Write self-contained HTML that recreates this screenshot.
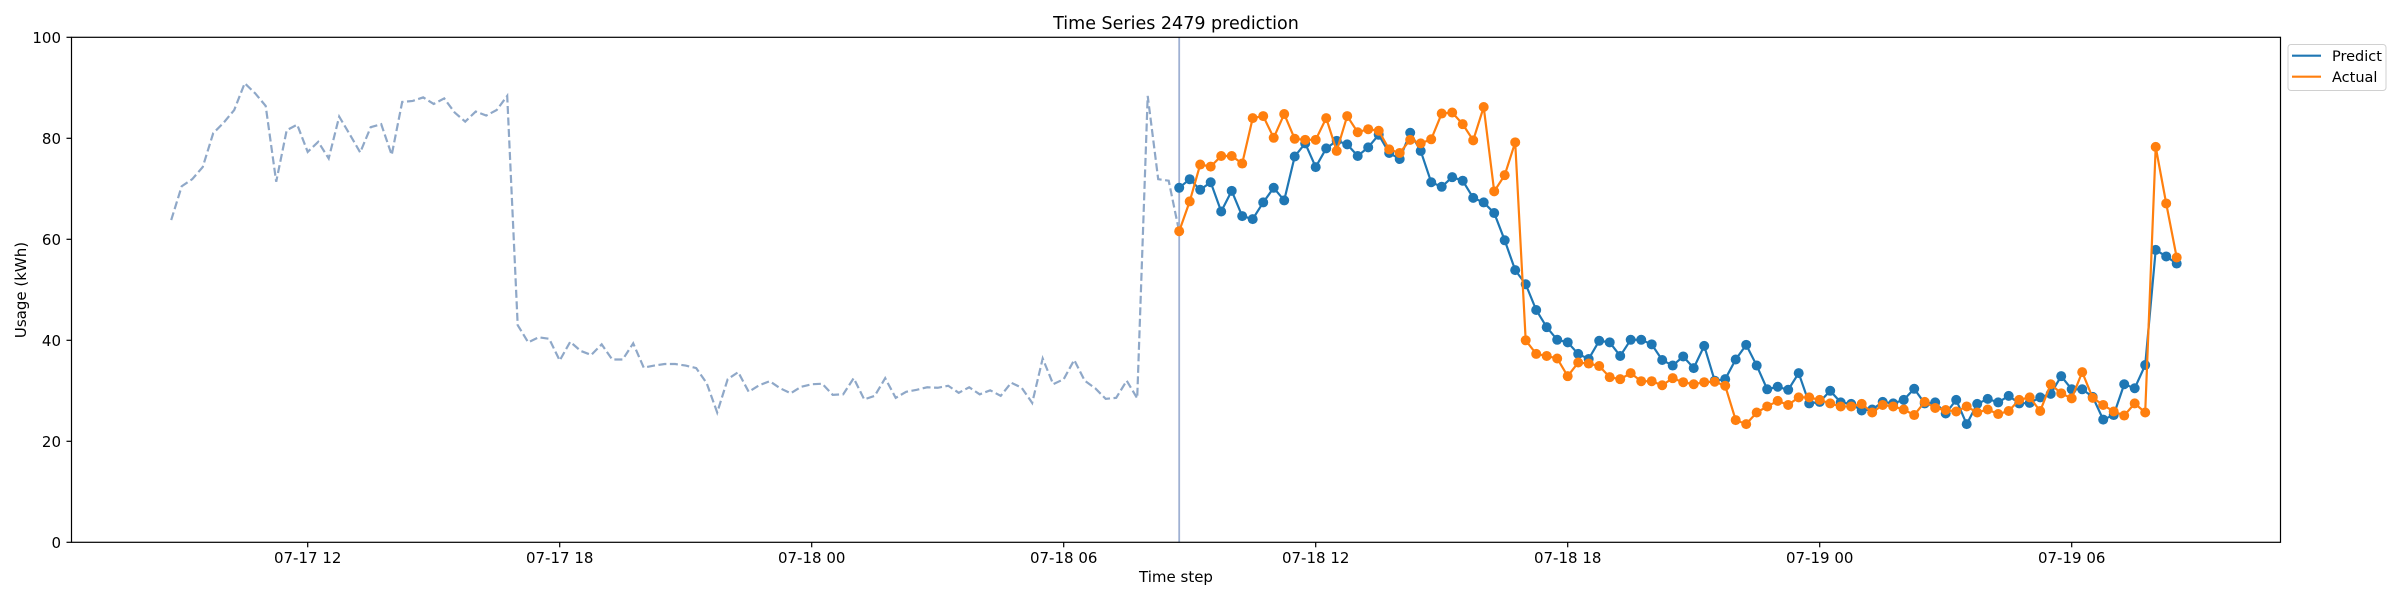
<!DOCTYPE html>
<html><head><meta charset="utf-8"><title>Time Series 2479 prediction</title>
<style>
html,body{margin:0;padding:0;background:#fff;}
svg{display:block;font-family:"DejaVu Sans","Liberation Sans",sans-serif;}
</style></head>
<body>
<svg id="chart" width="2400" height="600" viewBox="0 0 2400 600" xmlns="http://www.w3.org/2000/svg">
  <rect x="0" y="0" width="2400" height="600" fill="#fff"/>
  <text x="1176" y="29" font-size="17.5" text-anchor="middle" fill="#000">Time Series 2479 prediction</text>
  <text x="1176" y="582" font-size="15" text-anchor="middle" fill="#000">Time step</text>
  <text x="0" y="0" font-size="15" text-anchor="middle" fill="#000" transform="translate(26,290) rotate(-90)">Usage (kWh)</text>
  <g id="grid-ticks"></g>
  <g id="series"></g>
  <rect x="71.5" y="37.3" width="2209" height="505" fill="none" stroke="#000" stroke-width="1.2"/>
  <g>
    <rect x="2288" y="44.5" width="98" height="46" rx="3" fill="#fff" stroke="#d0d0d0" stroke-width="1"/>
    <g>
      <line x1="2292" y1="55.7" x2="2321" y2="55.7" stroke="#1f77b4" stroke-width="2.2"/>
      <text x="2332" y="61" font-size="14.5" fill="#000">Predict</text>
    </g>
    <g>
      <line x1="2292" y1="76.7" x2="2321" y2="76.7" stroke="#ff7f0e" stroke-width="2.2"/>
      <text x="2332" y="82" font-size="14.5" fill="#000">Actual</text>
    </g>
  </g>
</svg>
<script>
const historyValues = [63.8,70.5,71.9,74.3,81.0,83.1,85.6,90.9,88.9,86.4,71.4,81.6,82.7,77.3,79.3,76.0,84.3,80.8,77.2,82.2,82.8,76.7,87.2,87.4,88.1,86.8,87.9,85.1,83.3,85.3,84.5,85.6,88.4,43.0,39.6,40.6,40.3,36.0,39.7,37.9,37.1,39.2,36.2,36.2,39.4,34.6,35.0,35.3,35.3,35.0,34.5,31.5,25.7,32.3,33.7,29.8,31.1,31.9,30.5,29.5,30.8,31.3,31.4,29.2,29.3,32.5,28.3,29.0,32.5,28.6,29.8,30.2,30.7,30.6,31.0,29.6,30.7,29.3,30.1,29.0,31.6,30.6,27.6,36.4,31.3,32.3,36.1,32.0,30.5,28.4,28.6,32.0,28.5,88.4,71.9,71.6,61.5];
const predictValues = [70.2,71.9,69.8,71.3,65.5,69.6,64.6,64.0,67.3,70.2,67.7,76.4,79.0,74.3,78.0,79.5,78.8,76.5,78.2,80.7,77.1,75.9,81.1,77.5,71.3,70.4,72.3,71.6,68.2,67.3,65.2,59.8,53.9,51.1,46.0,42.6,40.1,39.6,37.3,36.3,39.9,39.6,36.9,40.1,40.1,39.2,36.1,35.0,36.8,34.5,38.9,32.0,32.3,36.2,39.1,35.0,30.3,30.8,30.2,33.5,27.5,27.8,30.0,27.7,27.4,26.1,26.3,27.8,27.5,28.2,30.4,27.5,27.7,25.5,28.2,23.4,27.4,28.4,27.7,29.0,27.5,27.6,28.7,29.4,32.9,30.3,30.3,28.8,24.3,25.2,31.3,30.5,35.1,57.9,56.6,55.2];
const actualValues = [61.6,67.5,74.8,74.4,76.5,76.5,75.0,84.0,84.4,80.1,84.8,79.9,79.7,79.7,84.0,77.5,84.4,81.2,81.8,81.5,77.8,77.1,79.7,79.0,79.8,84.9,85.1,82.8,79.6,86.2,69.5,72.7,79.2,40.0,37.3,36.9,36.4,32.9,35.6,35.4,34.9,32.7,32.3,33.5,31.9,31.9,31.1,32.5,31.7,31.3,31.7,31.8,31.0,24.2,23.4,25.7,26.9,28.0,27.2,28.7,28.7,28.2,27.5,26.9,26.9,27.4,25.7,27.2,26.9,26.3,25.2,27.8,26.6,26.2,25.9,26.9,25.7,26.3,25.4,26.0,28.2,28.7,26.0,31.3,29.5,28.5,33.7,28.6,27.2,25.9,25.1,27.5,25.7,78.3,67.1,56.4];
const xTickLabels = ["07-17 12","07-17 18","07-18 00","07-18 06","07-18 12","07-18 18","07-19 00","07-19 06"];
const xTickSteps = [13,37,61,85,109,133,157,181];
const yTickValues = [0,20,40,60,80,100];

const NS = "http://www.w3.org/2000/svg";
const X0 = 171.2, STEP = 10.5;
const Y0 = 542.3, YTOP = 37.3;
function xScale(i){ return X0 + i*STEP; }
function yScale(v){ return Y0 - (v/100)*(Y0-YTOP); }
function mk(tag, attrs, parent){ const e=document.createElementNS(NS,tag); for(const k in attrs) e.setAttribute(k,attrs[k]); parent.appendChild(e); return e; }

const ticks = document.getElementById('grid-ticks');
yTickValues.forEach(v=>{
  const y=yScale(v);
  const t=mk('line',{x1:66.5,x2:71.5,y1:y,y2:y,stroke:'#000','stroke-width':1.2},ticks);
  
  
  const l=mk('text',{x:61,y:y+5.5,'font-size':15,'text-anchor':'end',fill:'#000'},ticks);
  
  
  l.textContent=v;
});
xTickSteps.forEach((s,k)=>{
  const x=xScale(s);
  const t=mk('line',{x1:x,x2:x,y1:542.3,y2:547.3,stroke:'#000','stroke-width':1.2},ticks);
  
  
  const l=mk('text',{x:x,y:563,'font-size':15,'text-anchor':'middle',fill:'#000'},ticks);
  
  
  l.textContent=xTickLabels[k];
});

const g = document.getElementById('series');
const histPts = historyValues.map((v,i)=>xScale(i)+','+yScale(v)).join(' ');
const hist = mk('polyline',{points:histPts,fill:'none',stroke:'#8fa8c8','stroke-width':2.2,'stroke-dasharray':'8,3.5'},g);



const start = historyValues.length-1;
const vline = mk('line',{x1:xScale(start),x2:xScale(start),y1:YTOP,y2:Y0,stroke:'#9fb1d3','stroke-width':1.8},g);



function drawSeries(vals,color,name){
  const pts=vals.map((v,i)=>xScale(start+i)+','+yScale(v)).join(' ');
  const pl=mk('polyline',{points:pts,fill:'none',stroke:color,'stroke-width':2.2},g);
  
  
  vals.forEach((v,i)=>{
    const c=mk('circle',{cx:xScale(start+i),cy:yScale(v),r:5,fill:color},g);
    
    
  });
}
drawSeries(predictValues,'#1f77b4','predict');
drawSeries(actualValues,'#ff7f0e','actual');
</script>
</body></html>
